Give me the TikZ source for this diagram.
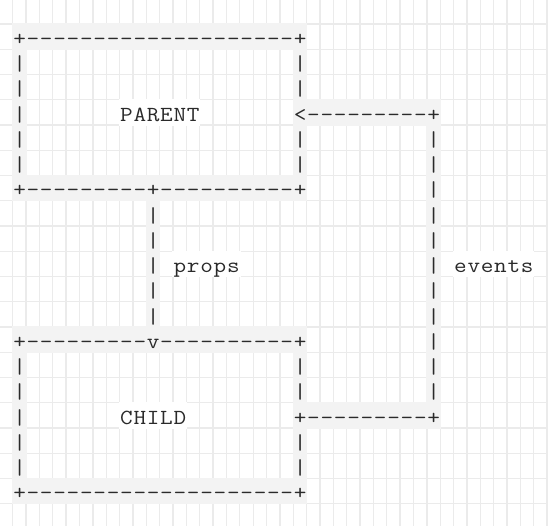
\documentclass[tikz,border=0pt]{standalone}
\usepackage{fontspec}
\usepackage{graphicx}
\definecolor{gridc}{HTML}{EBEBEB}
\definecolor{cellc}{HTML}{F3F3F3}
\definecolor{inkc}{HTML}{2A2A2A}
\pgfdeclarelayer{bg}
\pgfsetlayers{bg,main}
\newlength\cellw
\setlength\cellw{13.36pt}
\makeatletter
\newcommand\spacedchars[1]{\@tfor\asciich:=#1\do{\makebox[\cellw][c]{\scalebox{1.14}[1]{\asciich}}}}
\makeatother
\tikzset{
  gridline/.style={draw=gridc, line width=1.3pt},
  ascii/.style={inner sep=0pt, anchor=base west, text=inkc,
    font=\ttfamily\fontsize{21.5}{25.25}\selectfont}
}
\newcommand\CW{13.36}
\newcommand\RH{25.25}
% name, col, row, ncols, text  (line-drawing characters: grey cells)
\newcommand\asciiline[5]{%
  \begin{pgfonlayer}{bg}
    \fill[cellc] ({12.7+\CW*#2-0.7},{24+\RH*#3-0.7}) rectangle ({12.7+\CW*(#2+#4)+0.7},{24+\RH*(#3+1)+0.7});
  \end{pgfonlayer}
  \node[ascii] (#1) at ({12.7+\CW*#2},{24+\RH*#3+21.3}) {\spacedchars{#5}};}
% name, col, row, ncols, text  (labels: white cells)
\newcommand\asciitext[5]{%
  \begin{pgfonlayer}{bg}
    \fill[white] ({12.7+\CW*#2-0.7},{24+\RH*#3-0.7}) rectangle ({12.7+\CW*(#2+#4)+0.7},{24+\RH*(#3+1)+0.7});
  \end{pgfonlayer}
  \node[ascii] (#1) at ({12.7+\CW*#2},{24+\RH*#3+21.3}) {\spacedchars{#5}};}
\begin{document}
\begin{tikzpicture}[x=1pt,y=-1pt]
\useasboundingbox (0,0) rectangle (548,526);
\begin{pgfonlayer}{bg}
  \fill[white] (0,0) rectangle (548,526);
  \foreach \k in {0,...,40} \draw[gridline] ({12.7+\CW*\k},0) -- ({12.7+\CW*\k},526);
  \foreach \k in {0,...,19} \draw[gridline] (0,{24+\RH*\k}) -- (548,{24+\RH*\k});
\end{pgfonlayer}
% PARENT box
\asciiline{pt}{0}{0}{22}{+--------------------+}
\asciiline{pl1}{0}{1}{1}{|}\asciiline{pr1}{21}{1}{1}{|}
\asciiline{pl2}{0}{2}{1}{|}\asciiline{pr2}{21}{2}{1}{|}
\asciiline{pl3}{0}{3}{1}{|}\asciitext{parent}{8}{3}{6}{PARENT}
\asciiline{evtop}{21}{3}{11}{<---------+}
\asciiline{pl4}{0}{4}{1}{|}\asciiline{pr4}{21}{4}{1}{|}\asciiline{ev4}{31}{4}{1}{|}
\asciiline{pl5}{0}{5}{1}{|}\asciiline{pr5}{21}{5}{1}{|}\asciiline{ev5}{31}{5}{1}{|}
\asciiline{pb}{0}{6}{22}{+---------+----------+}\asciiline{ev6}{31}{6}{1}{|}
% props / events
\asciiline{pp7}{10}{7}{1}{|}\asciiline{ev7}{31}{7}{1}{|}
\asciiline{pp8}{10}{8}{1}{|}\asciiline{ev8}{31}{8}{1}{|}
\asciiline{pp9}{10}{9}{1}{|}\asciitext{props}{12}{9}{5}{props}
\asciiline{ev9}{31}{9}{1}{|}\asciitext{events}{33}{9}{6}{events}
\asciiline{pp10}{10}{10}{1}{|}\asciiline{ev10}{31}{10}{1}{|}
\asciiline{pp11}{10}{11}{1}{|}\asciiline{ev11}{31}{11}{1}{|}
% CHILD box
\asciiline{ct}{0}{12}{22}{+---------v----------+}\asciiline{ev12}{31}{12}{1}{|}
\asciiline{cl13}{0}{13}{1}{|}\asciiline{cr13}{21}{13}{1}{|}\asciiline{ev13}{31}{13}{1}{|}
\asciiline{cl14}{0}{14}{1}{|}\asciiline{cr14}{21}{14}{1}{|}\asciiline{ev14}{31}{14}{1}{|}
\asciiline{cl15}{0}{15}{1}{|}\asciitext{child}{8}{15}{5}{CHILD}
\asciiline{evbot}{21}{15}{11}{+---------+}
\asciiline{cl16}{0}{16}{1}{|}\asciiline{cr16}{21}{16}{1}{|}
\asciiline{cl17}{0}{17}{1}{|}\asciiline{cr17}{21}{17}{1}{|}
\asciiline{cb}{0}{18}{22}{+--------------------+}
\end{tikzpicture}
\end{document}
